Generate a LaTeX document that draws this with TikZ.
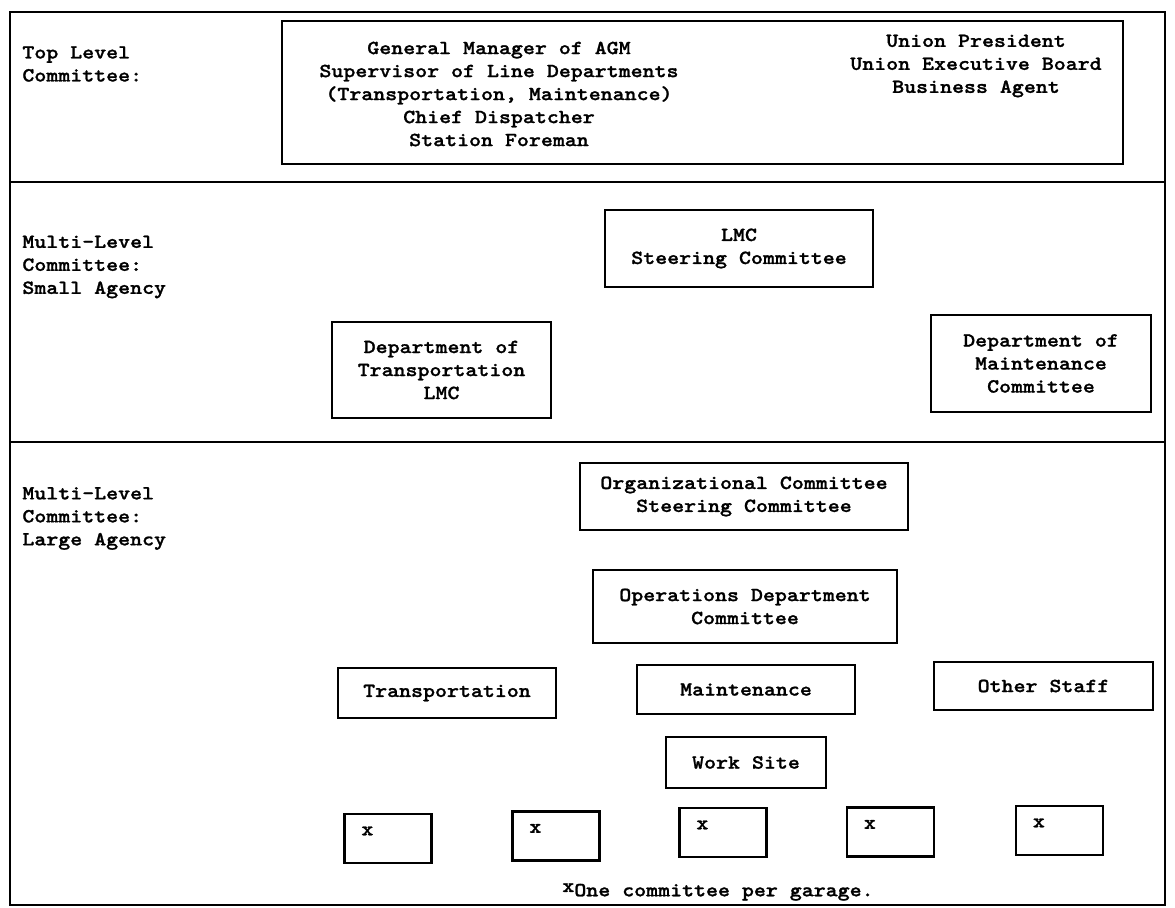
\documentclass[tikz,border=0pt]{standalone}
\usepackage{fontspec}
\newfontfamily\tw{lmmonolt10-bold.otf}[FakeStretch=1.14,FakeBold=1.2]
\begin{document}
\begin{tikzpicture}[x=0.5pt,y=-0.5pt,
  txt/.style={font=\tw\fontsize{10}{11.5}\selectfont, inner sep=0pt},
  lbl/.style={txt, align=left, anchor=west},
  box/.style={draw, line width=1.1pt, txt, align=center},
  frame/.style={draw, line width=1.1pt}]
\useasboundingbox (0,0) rectangle (1175,908);
% outer frame and section dividers
\coordinate (otl) at (10,12);
\coordinate (obr) at (1165,905);
\coordinate (d1l) at (10,182);
\coordinate (d1r) at (1165,182);
\coordinate (d2l) at (10,442);
\coordinate (d2r) at (1165,442);
\draw[frame] (otl) rectangle (obr);
\draw[frame] (d1l) -- (d1r);
\draw[frame] (d2l) -- (d2r);
% section labels
\node[lbl] (lt) at (22,64) {Top Level\\Committee:};
\node[lbl] (ls) at (22,267) {Multi-Level\\Committee:\\Small Agency};
\node[lbl] (ll) at (22,518.5) {Multi-Level\\Committee:\\Large Agency};
% top level committee
\node[box, minimum width=420.5pt, minimum height=71.5pt] (top) at (702.5,92.5) {};
\node[txt, align=center] (mgmt) at (499,94) {General Manager of AGM\\Supervisor of Line Departments\\(Transportation, Maintenance)\\Chief Dispatcher\\Station Foreman};
\node[txt, align=center] (union) at (976,66) {Union President\\Union Executive Board\\Business Agent};
% small agency
\node[box, minimum width=134pt, minimum height=38.5pt] (lmc) at (739,248.5) {LMC\\Steering Committee};
\node[box, minimum width=109.5pt, minimum height=48pt] (dot) at (441.5,370) {Department of\\Transportation\\LMC};
\node[box, minimum width=110pt, minimum height=48.5pt] (dom) at (1041,363.5) {Department of\\Maintenance\\Committee};
% large agency
\node[box, minimum width=164pt, minimum height=33.5pt] (org) at (744,496.5) {Organizational Committee\\Steering Committee};
\node[box, minimum width=152pt, minimum height=36.5pt] (ops) at (745,606.5) {Operations Department\\Committee};
\node[box, minimum width=109pt, minimum height=25pt] (trans) at (447,693) {Transportation};
\node[box, minimum width=109pt, minimum height=24.5pt] (maint) at (746,689.5) {Maintenance};
\node[box, minimum width=109.5pt, minimum height=24pt] (other) at (1043.5,686) {Other Staff};
\node[box, minimum width=80pt, minimum height=25.5pt] (work) at (746,762.5) {Work Site};
\foreach \n/\cx/\cy in {1/388/838.5, 2/556/836, 3/723/832.5, 4/890.5/832, 5/1059.5/830.5}{
  \node[box, minimum width=43.5pt, minimum height=24.5pt] (g\n) at (\cx,\cy) {};
  \node[txt] (gx\n) at ([shift={(24,18)}]g\n.north west) {x};
}
\node[txt, anchor=west] (note) at (562,892) {\raisebox{0.5ex}{x}One committee per garage.};
\end{tikzpicture}
\end{document}
